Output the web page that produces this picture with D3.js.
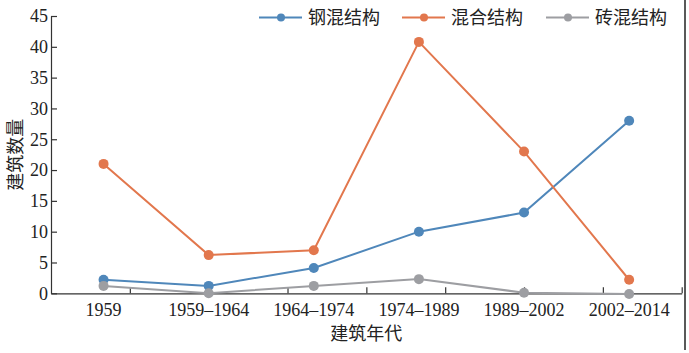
<!DOCTYPE html>
<html>
<head>
<meta charset="utf-8">
<script src="https://cdn.jsdelivr.net/npm/d3@7/dist/d3.min.js"></script>
<style>
  html, body { margin: 0; padding: 0; background: #fff; }
  svg { display: block; }
</style>
</head>
<body>
<svg id="chart" width="689" height="353"></svg>
<script>
const categories = ["1959", "1959–1964", "1964–1974", "1974–1989", "1989–2002", "2002–2014"];
const seriesNames = ["钢混结构", "混合结构", "砖混结构"];
const steelConcrete = [2.2, 1.2, 4.1, 10, 13.1, 28];
const mixed = [21, 6.2, 7, 40.8, 23, 2.2];
const brickConcrete = [1.2, 0, 1.2, 2.3, 0.1, -0.1];
const yTicks = [0, 5, 10, 15, 20, 25, 30, 35, 40, 45];
const xTickDivisions = [1, 2, 3, 4, 5, 6, 7, 8];
const colors = ["#4f87ba", "#e2774d", "#9d9ea2"];

(function () {
const svg = d3.select("#chart");
const mLeft = 51, mRight = 681.7, mTop = 16, mBottom = 293.3;
const numFont = "'Liberation Serif', 'Times New Roman', serif";
const cjkFont = "'Noto Sans CJK SC', sans-serif";

const x = d3.scaleBand().domain(categories).range([mLeft, mRight]).padding(0);
const xDiv = d3.scaleLinear().domain([0, 8]).range([mLeft, mRight]);
const y = d3.scaleLinear().domain([0, 45]).range([mBottom, mTop]);

// Y axis
const yAxis = svg.append("g").attr("transform", `translate(${mLeft},0)`)
  .call(d3.axisLeft(y).tickValues(yTicks).tickSizeInner(-6).tickSizeOuter(0).tickPadding(3));
yAxis.selectAll("text").attr("font-family", numFont).attr("font-size", 18).attr("fill", "#222");

// X axis: tick marks at equal divisions
svg.append("g").attr("transform", `translate(0,${mBottom})`)
  .call(d3.axisBottom(xDiv).tickValues(xTickDivisions).tickSizeInner(-6).tickSizeOuter(0).tickFormat(""));

// X axis: category labels
const xAxisLabels = svg.append("g").attr("transform", `translate(0,${mBottom})`)
  .call(d3.axisBottom(x).tickSize(0).tickPadding(10));
xAxisLabels.select(".domain").remove();
xAxisLabels.selectAll("text").attr("font-family", numFont).attr("font-size", 18).attr("fill", "#222");

svg.selectAll(".domain, .tick line").attr("stroke", "#333").attr("stroke-width", 1.2);

// Axis titles
svg.append("text")
  .attr("x", (mLeft + mRight) / 2).attr("y", 340)
  .attr("text-anchor", "middle")
  .attr("font-family", cjkFont).attr("font-size", 18).attr("fill", "#222")
  .text("建筑年代");
svg.append("text")
  .attr("transform", `translate(22,${(mTop + mBottom) / 2}) rotate(-90)`)
  .attr("text-anchor", "middle")
  .attr("font-family", cjkFont).attr("font-size", 18).attr("fill", "#222")
  .text("建筑数量");

// Right frame line
svg.append("line").attr("x1", 685).attr("x2", 685).attr("y1", 0).attr("y2", 350)
  .attr("stroke", "#222").attr("stroke-width", 1.5);

// Series
const seriesData = [steelConcrete, mixed, brickConcrete];
const line = d3.line()
  .x((d, i) => x(categories[i]) + x.bandwidth() / 2)
  .y(d => y(d));

seriesData.forEach((vals, si) => {
  const g = svg.append("g");
  g.append("path").datum(vals)
    .attr("d", line)
    .attr("fill", "none")
    .attr("stroke", colors[si])
    .attr("stroke-width", 2);
  g.selectAll("circle").data(vals).join("circle")
    .attr("cx", (d, i) => x(categories[i]) + x.bandwidth() / 2)
    .attr("cy", d => y(d))
    .attr("r", 5)
    .attr("fill", colors[si]);
});

// Legend
const legendX = [259, 402, 546];
seriesNames.forEach((name, i) => {
  const g = svg.append("g").attr("transform", `translate(${legendX[i]},17.5)`);
  g.append("line").attr("x1", 0).attr("x2", 43).attr("y1", 0).attr("y2", 0)
    .attr("stroke", colors[i]).attr("stroke-width", 2);
  g.append("circle").attr("cx", 22).attr("cy", 0).attr("r", 4).attr("fill", colors[i]);
  g.append("text").attr("x", 49).attr("y", 0).attr("dy", "0.35em")
    .attr("font-family", cjkFont).attr("font-size", 18).attr("fill", "#222")
    .text(name);
});
})();
</script>
</body>
</html>
